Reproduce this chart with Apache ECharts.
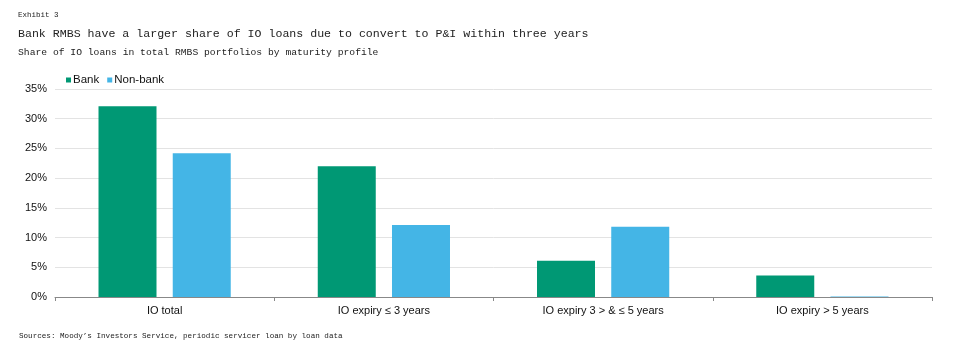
<!DOCTYPE html>
<html><head><meta charset="utf-8">
<script src="https://cdn.jsdelivr.net/npm/echarts@6/dist/echarts.min.js"></script>
<style>html,body{margin:0;padding:0;background:#fff}#c{width:960px;height:350px}</style>
</head><body><div id="c"></div>
<script>
const categories = ['IO total', 'IO expiry \u2264 3 years', 'IO expiry 3 > & \u2264 5 years', 'IO expiry > 5 years'];
const bankValues = [32.1, 22.0, 6.1, 3.6];
const nonBankValues = [24.2, 12.1, 11.8, 0.1];
const yTicks = [0, 5, 10, 15, 20, 25, 30, 35];

const mono = '"Liberation Mono", "DejaVu Sans Mono", monospace';
const sans = '"Liberation Sans", Arial, sans-serif';
const chart = echarts.init(document.getElementById('c'));
chart.setOption({
  animation: false,
  title: [
    {text: 'Exhibit 3', left: 13, top: 6, textStyle: {fontFamily: mono, fontSize: 7.5, fontWeight: 'normal', color: '#222'}},
    {text: 'Bank RMBS have a larger share of IO loans due to convert to P&I within three years', left: 13, top: 23, textStyle: {fontFamily: mono, fontSize: 11.6, fontWeight: 'normal', color: '#222'}},
    {text: 'Share of IO loans in total RMBS portfolios by maturity profile', left: 13, top: 42, textStyle: {fontFamily: mono, fontSize: 9.7, fontWeight: 'normal', color: '#222'}},
    {text: 'Sources: Moody\u2019s Investors Service, periodic servicer loan by loan data', left: 14, top: 327, textStyle: {fontFamily: mono, fontSize: 7.6, fontWeight: 'normal', color: '#222'}}
  ],
  legend: {
    left: 61, top: 69, itemWidth: 5, itemHeight: 5, itemGap: 8, icon: 'rect',
    textStyle: {fontFamily: sans, fontSize: 11.5, color: '#111', padding: [0, 0, 0, -3]},
    data: ['Bank', 'Non-bank']
  },
  grid: {left: 55, right: 28, top: 89, bottom: 53, containLabel: false},
  xAxis: {
    type: 'category', data: categories,
    axisLine: {lineStyle: {color: '#888', width: 1}},
    axisTick: {show: true, length: 4, lineStyle: {color: '#888'}},
    axisLabel: {fontFamily: sans, fontSize: 11, color: '#111', margin: 8}
  },
  yAxis: {
    type: 'value', min: 0, max: 35, interval: 5,
    axisLabel: {formatter: v => yTicks.includes(v) ? v + '%' : '', fontFamily: sans, fontSize: 11, color: '#111', margin: 8},
    axisLine: {show: false}, axisTick: {show: false},
    splitLine: {lineStyle: {color: '#e3e3e3', width: 1}}
  },
  series: [
    {name: 'Bank', type: 'bar', data: bankValues, barWidth: 58, barGap: '28%', itemStyle: {color: '#009874'}},
    {name: 'Non-bank', type: 'bar', data: nonBankValues, barWidth: 58, itemStyle: {color: '#44b5e6'}}
  ]
});
</script></body></html>
